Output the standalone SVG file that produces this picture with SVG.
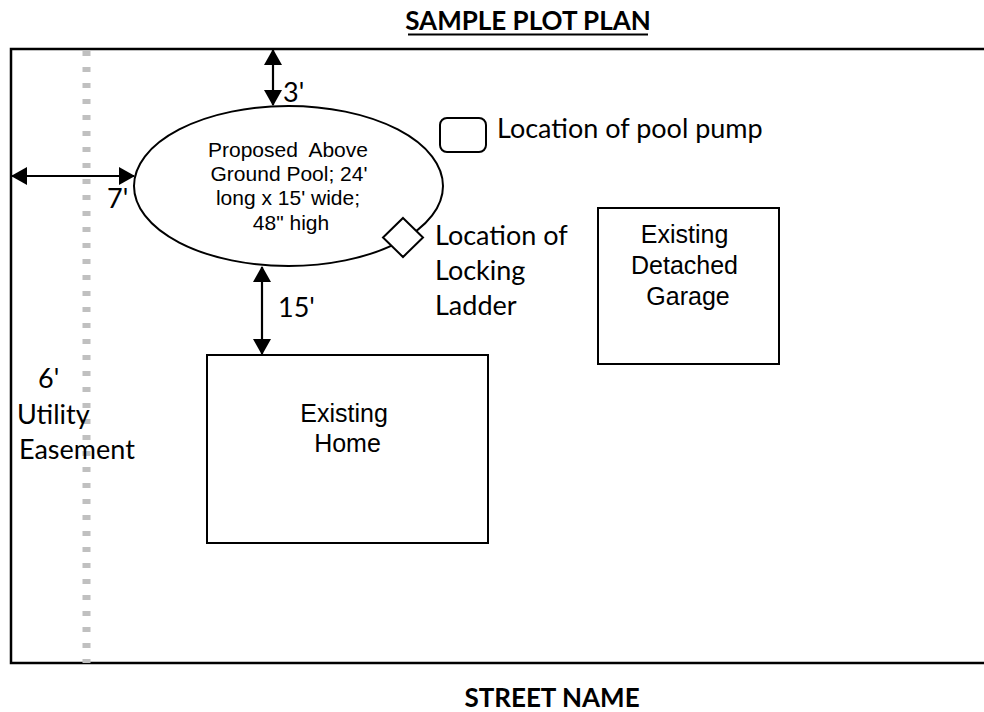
<svg xmlns="http://www.w3.org/2000/svg" width="984" height="712" viewBox="0 0 984 712">
  <style>
    .cal { font-family: Lato, "Open Sans", sans-serif; font-size: 27px; fill: #000; }
    .ttl { font-family: Lato, "Open Sans", sans-serif; font-size: 26px; font-weight: bold; fill: #000; }
    .ari { font-family: "Liberation Sans", Arial, sans-serif; fill: #000; }
    .pre { white-space: pre; }
    .shape { fill: #fff; stroke: #000; stroke-width: 2; }
    .dim { stroke: #000; stroke-width: 2.2; fill: none; }
  </style>
  <defs>
    <marker id="ah" markerUnits="userSpaceOnUse" markerWidth="18" markerHeight="18" viewBox="0 0 16 18" refX="15" refY="9" orient="auto-start-reverse">
      <path d="M0,0 L16,9 L0,18 Z" fill="#000"/>
    </marker>
  </defs>
  <rect width="984" height="712" fill="#fff"/>

  <g id="title">
    <text class="ttl" x="528" y="30" text-anchor="middle">SAMPLE PLOT PLAN</text>
    <line x1="408" y1="34.5" x2="648" y2="34.5" stroke="#000" stroke-width="2"/>
  </g>

  <g id="lot">
    <path d="M990,49 H11 V663 H990" fill="none" stroke="#000" stroke-width="2.5"/>
  </g>

  <g id="easement">
    <line x1="86.5" y1="51" x2="86.5" y2="663" stroke="#c0c0c0" stroke-width="8" stroke-dasharray="5 11"/>
    <text class="cal" x="38" y="388">6'</text>
    <text class="cal" x="17" y="424">Utility</text>
    <text class="cal" x="19" y="459">Easement</text>
  </g>

  <g id="pool">
    <ellipse class="shape" cx="288.5" cy="186" rx="154.5" ry="80"/>
    <text class="ari pre" font-size="21" text-anchor="middle" xml:space="preserve"><tspan x="288" y="157">Proposed  Above</tspan><tspan x="289" y="181">Ground Pool; 24'</tspan><tspan x="288" y="205">long x 15' wide;</tspan><tspan x="291" y="230">48" high</tspan></text>
  </g>

  <g id="ladder">
    <polygon class="shape" points="403,218 423,237.5 403,257 383,237.5"/>
    <text class="cal">
      <tspan x="435" y="245">Location of</tspan>
      <tspan x="435" y="280">Locking</tspan>
      <tspan x="435" y="315">Ladder</tspan>
    </text>
  </g>

  <g id="pump">
    <rect class="shape" x="440" y="118" width="46" height="34" rx="7"/>
    <text class="cal" x="497" y="138">Location of pool pump</text>
  </g>

  <g id="garage">
    <rect class="shape" x="598" y="208" width="181" height="156"/>
    <text class="ari" font-size="25" text-anchor="middle">
      <tspan x="688" y="243">Existing</tspan>
      <tspan x="688" y="274">Detached</tspan>
      <tspan x="688" y="305">Garage</tspan>
    </text>
  </g>

  <g id="home">
    <rect class="shape" x="207" y="355" width="281" height="188"/>
    <text class="ari" font-size="25" text-anchor="middle">
      <tspan x="347.5" y="422">Existing</tspan>
      <tspan x="347.5" y="452">Home</tspan>
    </text>
  </g>

  <g id="connectors">
    <line class="dim" x1="273" y1="50" x2="273" y2="105" marker-start="url(#ah)" marker-end="url(#ah)"/>
    <line class="dim" x1="12" y1="176" x2="134" y2="176" marker-start="url(#ah)" marker-end="url(#ah)"/>
    <line class="dim" x1="262" y1="267" x2="262" y2="354" marker-start="url(#ah)" marker-end="url(#ah)"/>
  </g>

  <g id="dim-labels">
    <text class="cal" x="283" y="102">3'</text>
    <text class="cal" x="107" y="208">7'</text>
    <text class="cal" x="278" y="317">15'</text>
  </g>

  <g id="street">
    <text class="ttl" x="552" y="707" text-anchor="middle">STREET NAME</text>
  </g>
</svg>
